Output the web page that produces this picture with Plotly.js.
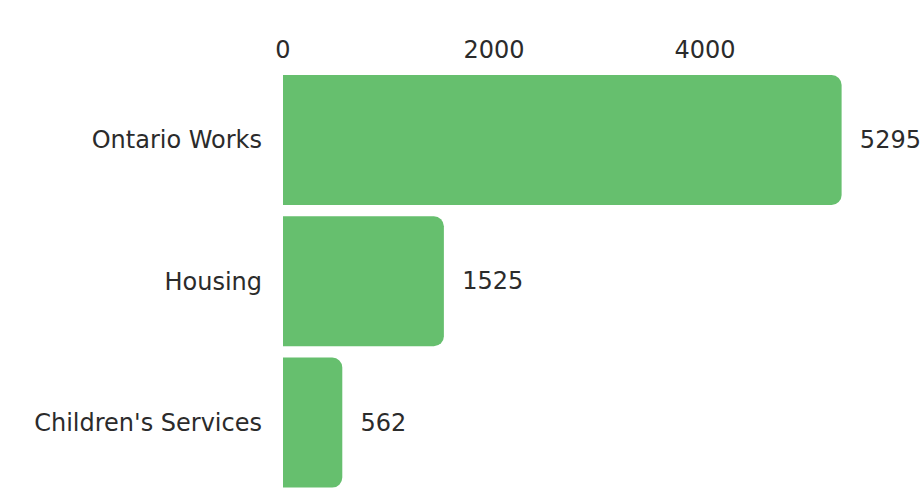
<!DOCTYPE html>
<html>
<head>
<meta charset="utf-8">
<script src="https://cdn.plot.ly/plotly-3.0.1.min.js"></script>
<style>html,body{margin:0;padding:0;background:#fff;}#chart{width:924px;height:488px;}</style>
</head>
<body>
<div id="chart"></div>
<script>
const categories = ["Ontario Works", "Housing", "Children's Services"];
const values = [5295, 1525, 562];
const tickValues = [0, 2000, 4000];

const FONT = "DejaVu Sans, sans-serif";
const TXT = "#2b2b2b";
const FS = 24;

const trace = {
  type: "bar",
  orientation: "h",
  y: categories,
  x: values,
  marker: {color: "#66BF6E"},
  text: values.map(v => "  " + v),
  textposition: "outside",
  cliponaxis: false,
  textfont: {family: FONT, size: FS, color: TXT},
  hoverinfo: "x+y"
};

const layout = {
  width: 924,
  height: 488,
  margin: {l: 283, r: 0, t: 70, b: 0, pad: 0},
  paper_bgcolor: "#fff",
  plot_bgcolor: "#fff",
  bargap: 0.08,
  barcornerradius: 10,
  showlegend: false,
  font: {family: FONT, size: FS, color: TXT},
  xaxis: {
    side: "top",
    range: [0, 6076],
    tickvals: tickValues,
    ticktext: tickValues.map(String),
    showgrid: false,
    zeroline: false,
    showline: false,
    ticks: "",
    ticklabelstandoff: 6,
    tickfont: {family: FONT, size: FS, color: TXT}
  },
  yaxis: {
    type: "category",
    range: [2.463, -0.495],
    showgrid: false,
    zeroline: false,
    showline: false,
    ticks: "",
    ticklabelstandoff: 20,
    tickfont: {family: FONT, size: FS, color: TXT}
  }
};

Plotly.newPlot("chart", [trace], layout, {displayModeBar: false, staticPlot: true});
</script>
</body>
</html>
